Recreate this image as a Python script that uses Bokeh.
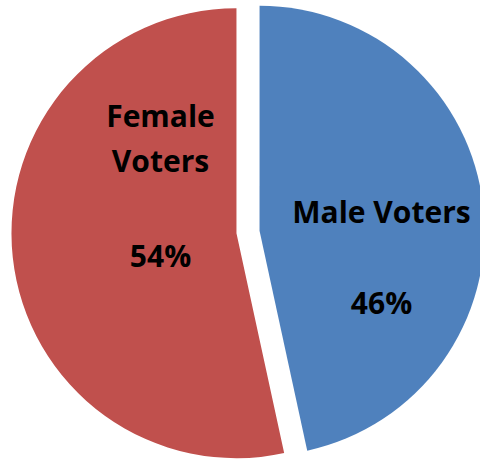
import math
from bokeh.plotting import figure
from bokeh.models import Range1d, ColumnDataSource
from bokeh.core.properties import value
from bokeh.embed import file_html
from bokeh.resources import INLINE

# Data
categories = ["Male Voters", "Female Voters"]
shares = [46.6, 53.4]          # slice shares
pct_labels = ["46%", "54%"]     # labels as printed
colors = ["#4F81BD", "#C0504D"]

W, H = 480, 462
p = figure(width=W, height=H, output_backend="svg", toolbar_location=None,
           x_range=Range1d(0, W), y_range=Range1d(0, H), min_border=0,
           outline_line_color=None, background_fill_color="white")
p.axis.visible = False
p.grid.visible = False

cx, cy = 247.5, H - 231.5
radius = 225
explode = 11.6

total = sum(shares)
start = 90.0  # degrees, 12 o'clock, slices go clockwise
xs, ys, sa, ea = [], [], [], []
for s in shares:
    sweep = s / total * 360.0
    end = start - sweep
    mid = math.radians((start + end) / 2)
    xs.append(cx + explode * math.cos(mid))
    ys.append(cy + explode * math.sin(mid))
    sa.append(math.radians(end))
    ea.append(math.radians(start))
    start = end

src = ColumnDataSource(dict(x=xs, y=ys, sa=sa, ea=ea, color=colors, cat=categories))
p.wedge(x="x", y="y", radius=radius, start_angle="sa", end_angle="ea",
        fill_color="color", line_color=None, source=src)

font = value("Open Sans")
fs = "30px"
def lbl(x, y, t):
    p.text(x=x, y=y, text=t, text_align="center", text_baseline="middle",
           text_font=font, text_font_style="bold", text_font_size=fs,
           text_color="black")

# Male label (y = vertical middle of caps)
lbl([381], [H - 211], ["Male Voters"])
lbl([381], [H - 301.5], [pct_labels[0]])
# Female label
lbl([160, 160], [H - 115, H - 160], ["Female", "Voters"])
lbl([160], [H - 255], [pct_labels[1]])

open("out.html", "w").write(file_html(p, INLINE))
